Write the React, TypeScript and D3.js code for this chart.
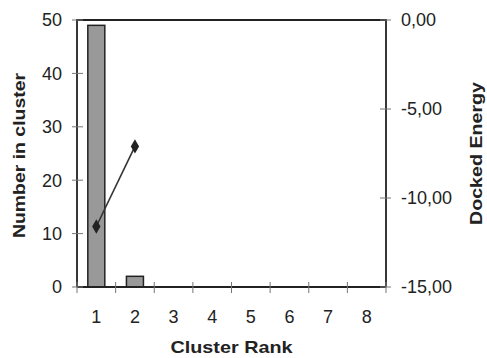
import React, { useEffect, useRef } from "react";
import * as d3 from "d3";

const ranks = ["1", "2", "3", "4", "5", "6", "7", "8"];
const counts = [49, 2, 0, 0, 0, 0, 0, 0];
const energyRanks = ["1", "2"];
const energies = [-11.6, -7.1];
const leftTicks = [0, 10, 20, 30, 40, 50];
const rightTicks = [0, -5, -10, -15];

const App = () => {
  const svgRef = useRef<SVGSVGElement>(null);
  const width = 487, height = 358;
  const margin = { top: 20, right: 101, bottom: 71, left: 77 };
  const w = width - margin.left - margin.right;
  const h = height - margin.top - margin.bottom;

  useEffect(() => {
    const root = d3.select(svgRef.current);
    root.selectAll("*").remove();
    const svg = root.append("g")
      .attr("transform", `translate(${margin.left}, ${margin.top})`);

    const pad = 0.56;
    const x = d3.scaleBand().domain(ranks).range([0, w]).paddingInner(pad).paddingOuter(pad / 2);
    const y = d3.scaleLinear().domain([0, 50]).range([h, 0]);
    const y2 = d3.scaleLinear().domain([-15, 0]).range([h, 0]);
    const font = "'Liberation Sans', Arial, sans-serif";
    const ink = "#222";

    // bars
    svg.selectAll("rect.bar")
      .data(counts.map((v, i) => ({ r: ranks[i], v })).filter(d => d.v > 0))
      .enter()
      .append("rect")
      .attr("x", d => x(d.r)!)
      .attr("y", d => y(d.v))
      .attr("width", x.bandwidth())
      .attr("height", d => h - y(d.v))
      .attr("fill", "#999")
      .attr("stroke", ink)
      .attr("stroke-width", 1.5);

    // frame
    svg.append("path")
      .attr("d", `M0,${h}V0H${w}V${h}`)
      .attr("fill", "none")
      .attr("stroke", ink)
      .attr("stroke-width", 1.8);
    svg.append("line")
      .attr("x1", 0).attr("x2", w).attr("y1", h).attr("y2", h)
      .attr("stroke", ink).attr("stroke-width", 2);

    // bottom ticks
    const step = x.step();
    const bx = d3.range(ranks.length + 1).map(i => i * step);
    svg.selectAll("line.bt").data(bx).enter().append("line")
      .attr("x1", d => d).attr("x2", d => d)
      .attr("y1", h - 5).attr("y2", h + 6)
      .attr("stroke", "#777").attr("stroke-width", 1);
    svg.selectAll("text.bl").data(ranks).enter().append("text")
      .attr("x", d => x(d)! + x.bandwidth() / 2)
      .attr("y", h + 36)
      .attr("text-anchor", "middle")
      .attr("font-family", font).attr("font-size", 18).attr("fill", ink)
      .text(d => d);

    // left ticks
    svg.selectAll("line.lt").data(leftTicks).enter().append("line")
      .attr("x1", -5).attr("x2", 6)
      .attr("y1", d => y(d)).attr("y2", d => y(d))
      .attr("stroke", "#777").attr("stroke-width", 1);
    svg.selectAll("text.ll").data(leftTicks).enter().append("text")
      .attr("x", -15).attr("y", d => y(d))
      .attr("dy", "0.35em")
      .attr("text-anchor", "end")
      .attr("font-family", font).attr("font-size", 18).attr("fill", ink)
      .text(d => String(d));

    // right ticks
    svg.selectAll("line.rt").data(rightTicks).enter().append("line")
      .attr("x1", w - 6).attr("x2", w + 5)
      .attr("y1", d => y2(d)).attr("y2", d => y2(d))
      .attr("stroke", "#777").attr("stroke-width", 1);
    svg.selectAll("text.rl").data(rightTicks).enter().append("text")
      .attr("x", w + 15).attr("y", d => y2(d))
      .attr("dy", "0.35em")
      .attr("font-family", font).attr("font-size", 18).attr("fill", ink)
      .text(d => d3.format(".2f")(d).replace(".", ",").replace("−", "-"));

    // energy line
    const pts = energies.map((v, i) => [x(energyRanks[i])! + x.bandwidth() / 2, y2(v)] as [number, number]);
    svg.append("path")
      .attr("d", d3.line()(pts))
      .attr("fill", "none")
      .attr("stroke", "#333")
      .attr("stroke-width", 1.6);
    svg.selectAll("path.mk").data(pts).enter().append("path")
      .attr("d", d3.symbol(d3.symbolDiamond, 60)())
      .attr("transform", d => `translate(${d[0]},${d[1]})`)
      .attr("fill", "#222");

    // titles
    svg.append("text")
      .attr("x", w / 2).attr("y", h + 66)
      .attr("text-anchor", "middle")
      .attr("font-family", font).attr("font-size", 17).attr("font-weight", "bold").attr("fill", ink)
      .attr("textLength", 122).attr("lengthAdjust", "spacingAndGlyphs")
      .text("Cluster Rank");
    svg.append("text")
      .attr("transform", `translate(${-52}, ${h / 2 + 2}) rotate(-90)`)
      .attr("text-anchor", "middle")
      .attr("font-family", font).attr("font-size", 17).attr("font-weight", "bold").attr("fill", ink)
      .attr("textLength", 165).attr("lengthAdjust", "spacingAndGlyphs")
      .text("Number in cluster");
    svg.append("text")
      .attr("transform", `translate(${w + 96}, ${h / 2}) rotate(-90)`)
      .attr("text-anchor", "middle")
      .attr("font-family", font).attr("font-size", 17).attr("font-weight", "bold").attr("fill", ink)
      .attr("textLength", 143).attr("lengthAdjust", "spacingAndGlyphs")
      .text("Docked Energy");
  }, []);

  return (
    <svg ref={svgRef} width={width} height={height}
      style={{ position: "absolute", left: 0, top: 0, background: "#fff" }} />
  );
};

export default App;
